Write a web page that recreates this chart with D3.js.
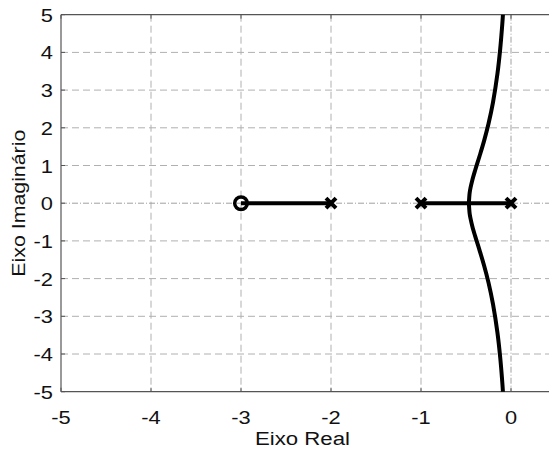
<!DOCTYPE html>
<html><head><meta charset="utf-8">
<script src="https://cdn.jsdelivr.net/npm/d3@7"></script>
<style>body{margin:0;background:#fff;}svg{display:block;}</style>
</head><body>
<svg id="c" width="549" height="450"></svg>
<script>
const xTicks = [-5, -4, -3, -2, -1, 0];
const yTicks = [5, 4, 3, 2, 1, 0, -1, -2, -3, -4, -5];
const zeros = [-3];
const poles = [-2, -1, 0];
const realSegments = [[-3, -2], [-1, 0]];
const upperSigma = [-0.468, -0.46, -0.45, -0.43, -0.40, -0.35, -0.30, -0.25, -0.20, -0.15, -0.12, -0.10, -0.09, -0.087];
const upperOmega = [0, 0.265, 0.405, 0.61, 0.86, 1.245, 1.646, 2.106, 2.676, 3.446, 4.09, 4.65, 4.99, 5.2];
const lowerSigma = [-0.468, -0.46, -0.45, -0.43, -0.40, -0.35, -0.30, -0.25, -0.20, -0.15, -0.12, -0.10, -0.09, -0.087];
const lowerOmega = [0, -0.265, -0.405, -0.61, -0.86, -1.245, -1.646, -2.106, -2.676, -3.446, -4.09, -4.65, -4.99, -5.2];
const xLabel = "Eixo Real";
const yLabel = "Eixo Imaginário";

const svg = d3.select("#c");
const L = 61, T = 14.7, B = 391.7;
const x = d3.scaleLinear().domain([-5, 0.5]).range([L, L + 5.5 * 90]);
const y = d3.scaleLinear().domain([-5, 5]).range([B, T]);
const font = "'Liberation Sans', Arial, sans-serif";

svg.append("defs").append("clipPath").attr("id", "clip")
  .append("rect").attr("x", L).attr("y", T).attr("width", x(0.5) - L).attr("height", B - T);

const grid = svg.append("g");
xTicks.filter(v => v !== -5 && v !== 0).forEach(v => {
  grid.append("line").attr("x1", x(v)).attr("x2", x(v)).attr("y1", T).attr("y2", B)
    .attr("stroke", "#b0b0b0").attr("stroke-width", 1).attr("stroke-dasharray", "7,4");
});
yTicks.filter(v => v !== 5 && v !== -5 && v !== 0).forEach(v => {
  grid.append("line").attr("x1", L).attr("x2", x(0.5)).attr("y1", y(v)).attr("y2", y(v))
    .attr("stroke", "#b0b0b0").attr("stroke-width", 1).attr("stroke-dasharray", "7,4");
});
grid.append("line").attr("x1", x(0)).attr("x2", x(0)).attr("y1", T).attr("y2", B)
  .attr("stroke", "#a0a0a0").attr("stroke-width", 1).attr("stroke-dasharray", "6,2,1,2");
grid.append("line").attr("x1", L).attr("x2", x(0.5)).attr("y1", y(0)).attr("y2", y(0))
  .attr("stroke", "#a0a0a0").attr("stroke-width", 1).attr("stroke-dasharray", "6,2,1,2");

const ax = svg.append("g");
ax.append("line").attr("x1", L).attr("x2", L).attr("y1", T).attr("y2", B).attr("stroke", "#555").attr("stroke-width", 1.2);
ax.append("line").attr("x1", L).attr("x2", x(0.5)).attr("y1", B).attr("y2", B).attr("stroke", "#555").attr("stroke-width", 1.2);
ax.append("line").attr("x1", L).attr("x2", x(0.5)).attr("y1", T).attr("y2", T).attr("stroke", "#555").attr("stroke-width", 1.2);
xTicks.forEach(v => {
  ax.append("line").attr("x1", x(v)).attr("x2", x(v)).attr("y1", B).attr("y2", B - 4).attr("stroke", "#555");
  ax.append("line").attr("x1", x(v)).attr("x2", x(v)).attr("y1", T).attr("y2", T + 4).attr("stroke", "#555");
});
yTicks.forEach(v => {
  ax.append("line").attr("x1", L).attr("x2", L + 4).attr("y1", y(v)).attr("y2", y(v)).attr("stroke", "#555");
});

xTicks.forEach(v => {
  svg.append("text").attr("transform", `translate(${x(v)},424) scale(1.15,1)`)
    .attr("text-anchor", "middle").attr("font-family", font).attr("font-size", 19).attr("fill", "#111")
    .text(String(v));
});
yTicks.forEach(v => {
  svg.append("text").attr("transform", `translate(53,${y(v) + 7}) scale(1.15,1)`)
    .attr("text-anchor", "end").attr("font-family", font).attr("font-size", 19).attr("fill", "#111")
    .text(String(v));
});
svg.append("text").attr("x", 302.5).attr("y", 445).attr("text-anchor", "middle")
  .attr("font-family", font).attr("font-size", 18).attr("fill", "#111")
  .attr("textLength", 95).attr("lengthAdjust", "spacingAndGlyphs").text(xLabel);
svg.append("text").attr("transform", `translate(25,${(T + B) / 2}) rotate(-90)`).attr("text-anchor", "middle")
  .attr("font-family", font).attr("font-size", 18).attr("fill", "#111")
  .attr("textLength", 147).attr("lengthAdjust", "spacingAndGlyphs").text(yLabel);

const plot = svg.append("g").attr("clip-path", "url(#clip)");
realSegments.forEach(s => {
  plot.append("line").attr("x1", x(s[0])).attr("x2", x(s[1])).attr("y1", y(0)).attr("y2", y(0))
    .attr("stroke", "#000").attr("stroke-width", 4);
});
const line = d3.line().x(d => x(d[0])).y(d => y(d[1])).curve(d3.curveCatmullRom);
[[upperSigma, upperOmega], [lowerSigma, lowerOmega]].forEach(([s, w]) => {
  plot.append("path").datum(s.map((v, i) => [v, w[i]])).attr("d", line)
    .attr("fill", "none").attr("stroke", "#000").attr("stroke-width", 4);
});
zeros.forEach(z => {
  plot.append("circle").attr("cx", x(z)).attr("cy", y(0)).attr("r", 6.3)
    .attr("fill", "none").attr("stroke", "#000").attr("stroke-width", 3.5);
});
poles.forEach(p => {
  const cx = x(p), cy = y(0), h = 5;
  plot.append("path").attr("d", `M${cx - h},${cy - h}L${cx + h},${cy + h}M${cx - h},${cy + h}L${cx + h},${cy - h}`)
    .attr("stroke", "#000").attr("stroke-width", 4).attr("fill", "none");
});
</script>
</body></html>
